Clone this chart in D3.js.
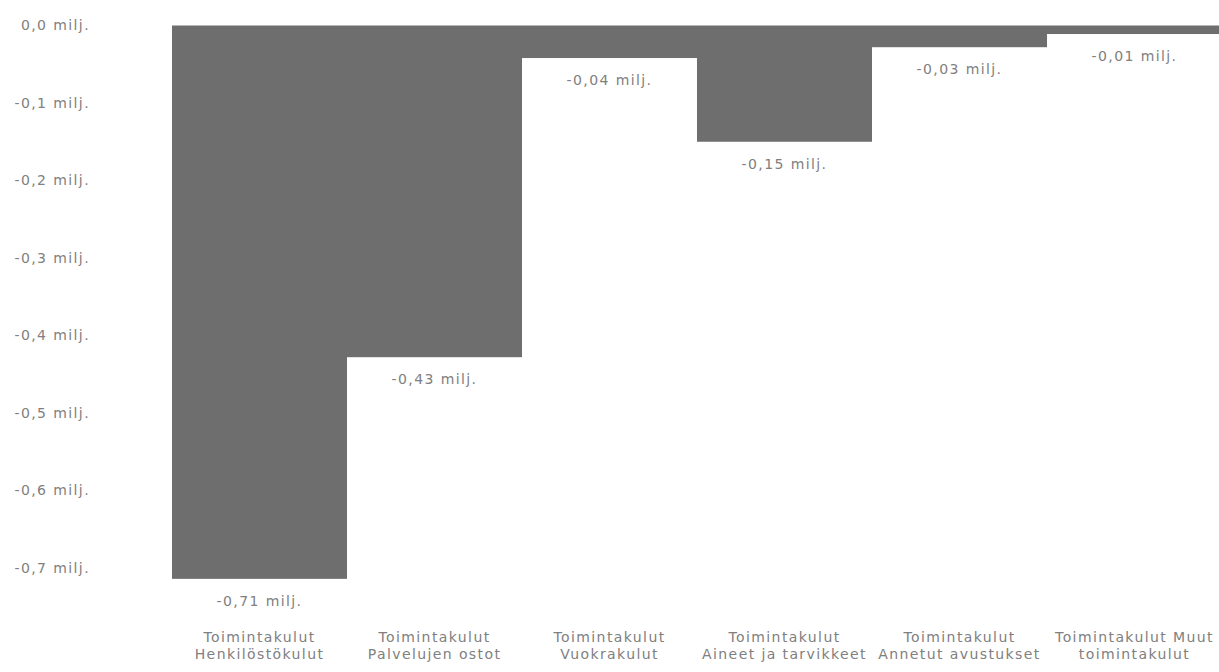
<!DOCTYPE html>
<html><head><meta charset="utf-8">
<script src="https://cdn.jsdelivr.net/npm/d3@7"></script>
<style>body{margin:0;background:#fff}svg{display:block}</style>
</head><body>
<svg id="c" width="1219" height="672"></svg>
<script>
const categories = [
  ["Toimintakulut","Henkilöstökulut"],
  ["Toimintakulut","Palvelujen ostot"],
  ["Toimintakulut","Vuokrakulut"],
  ["Toimintakulut","Aineet ja tarvikkeet"],
  ["Toimintakulut","Annetut avustukset"],
  ["Toimintakulut Muut","toimintakulut"]
];
const values = [-0.714, -0.428, -0.042, -0.150, -0.028, -0.011];
const yTicks = [0, -0.1, -0.2, -0.3, -0.4, -0.5, -0.6, -0.7];

const svg = d3.select("#c");
const font = "DejaVu Sans, Verdana, sans-serif";
const fs = "14px", ls = "1.4px";
const fmt = v => (v < 0 ? "-" : "") + Math.abs(v).toFixed(2).replace(".", ",") + " milj.";
const tfmt = v => (v < 0 ? "-" : "") + Math.abs(v).toFixed(1).replace(".", ",") + " milj.";

const x = d3.scaleBand().domain(d3.range(categories.length)).range([172, 1222]).padding(0);
const y = d3.scaleLinear().domain([0, -0.7]).range([25.5, 568]);

function style(sel) {
  sel.attr("fill", "#808080").style("font-family", font).style("font-size", fs).style("letter-spacing", ls);
}

// y axis labels
const yAxis = d3.axisLeft(y).tickValues(yTicks).tickFormat(tfmt).tickSize(0).tickPadding(0);
const ga = svg.append("g").attr("transform", "translate(90,0)").call(yAxis);
ga.select(".domain").remove();
ga.selectAll("text").call(style);

// bars
svg.append("g").selectAll("rect").data(values).join("rect")
  .attr("x", (d, i) => x(i))
  .attr("width", x.bandwidth())
  .attr("y", d => y(Math.max(0, d)))
  .attr("height", d => Math.abs(y(d) - y(0)))
  .attr("fill", "#6e6e6e");

// value labels
svg.append("g").selectAll("text").data(values).join("text")
  .attr("x", (d, i) => x(i) + x.bandwidth() / 2)
  .attr("y", d => y(d) + 27)
  .attr("text-anchor", "middle")
  .call(style)
  .text(fmt);

// category labels
const xAxis = d3.axisBottom(x).tickSize(0).tickFormat("");
const gx = svg.append("g").attr("transform", "translate(0,620)").call(xAxis);
gx.select(".domain").remove();
gx.selectAll(".tick").each(function(i) {
  const t = d3.select(this).append("text").attr("text-anchor", "middle").call(style);
  categories[i].forEach((line, k) => {
    t.append("tspan").attr("x", 0).attr("y", 22 + k * 17).text(line);
  });
});
</script>
</body></html>
